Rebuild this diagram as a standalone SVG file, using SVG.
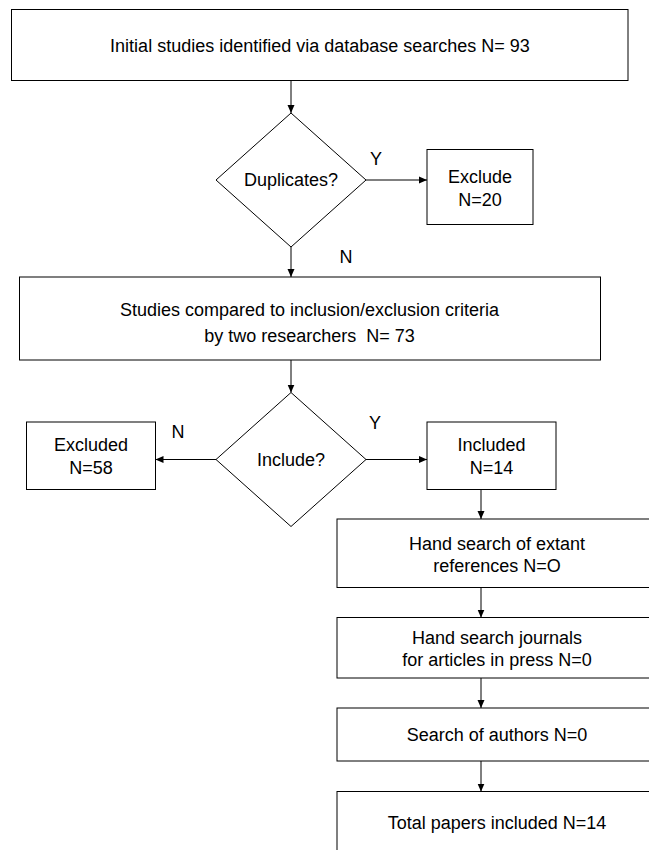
<svg xmlns="http://www.w3.org/2000/svg" width="649" height="850" viewBox="0 0 649 850">
<style>
.box{fill:#fff;stroke:#000;stroke-width:1}
.dia{fill:#fff;stroke:#000;stroke-width:1}
.t{font-family:"Liberation Sans",Arial,sans-serif;font-size:18px;fill:#000;text-anchor:middle}
.c{stroke:#000;stroke-width:1;fill:none;marker-end:url(#ah)}
</style>
<defs>
<marker id="ah" markerUnits="userSpaceOnUse" markerWidth="8" markerHeight="8" refX="8" refY="4" orient="auto">
<path d="M0,0.5 L8,4 L0,7.5 z" fill="#000"/>
</marker>
</defs>
<rect width="649" height="850" fill="#fff"/>
<g id="connectors">
<line class="c" x1="291" y1="80.5" x2="291" y2="113"/>
<line class="c" x1="366" y1="180" x2="427" y2="180"/>
<line class="c" x1="291" y1="247" x2="291" y2="277"/>
<line class="c" x1="291" y1="360" x2="291" y2="392.5"/>
<line class="c" x1="216" y1="459.5" x2="155.5" y2="459.5"/>
<line class="c" x1="366" y1="459.5" x2="427" y2="459.5"/>
<line class="c" x1="481" y1="489.5" x2="481" y2="519"/>
<line class="c" x1="481" y1="587.5" x2="481" y2="617.5"/>
<line class="c" x1="481" y1="678" x2="481" y2="708"/>
<line class="c" x1="481" y1="761" x2="481" y2="791.5"/>
<text class="t" x="376" y="165">Y</text>
<text class="t" x="346" y="263">N</text>
<text class="t" x="178" y="438">N</text>
<text class="t" x="375" y="429">Y</text>
</g>
<g id="initial">
<rect class="box" x="11.5" y="9.5" width="616.5" height="71"/>
<text class="t" x="320" y="52">Initial studies identified via database searches N= 93</text>
</g>
<g id="duplicates">
<polygon class="dia" points="291,113 366,180 291,247 216,180"/>
<text class="t" x="291" y="186">Duplicates?</text>
</g>
<g id="exclude">
<rect class="box" x="427" y="149.5" width="106" height="75"/>
<text class="t" x="480" y="183">Exclude</text>
<text class="t" x="480" y="206">N=20</text>
</g>
<g id="compared">
<rect class="box" x="19.5" y="277" width="581" height="83"/>
<text class="t" x="309.5" y="316">Studies compared to inclusion/exclusion criteria</text>
<text class="t" x="309.5" y="342" xml:space="preserve">by two researchers  N= 73</text>
</g>
<g id="include">
<polygon class="dia" points="291,392.5 366,459.5 291,526.5 216,459.5"/>
<text class="t" x="291" y="466">Include?</text>
</g>
<g id="excluded">
<rect class="box" x="26.5" y="422" width="129" height="67.5"/>
<text class="t" x="91" y="451">Excluded</text>
<text class="t" x="91" y="474">N=58</text>
</g>
<g id="included">
<rect class="box" x="427" y="422" width="129" height="67.5"/>
<text class="t" x="491.5" y="451">Included</text>
<text class="t" x="491.5" y="474">N=14</text>
</g>
<g id="hand-refs">
<rect class="box" x="337" y="519" width="330" height="68.5"/>
<text class="t" x="497" y="550">Hand search of extant</text>
<text class="t" x="497" y="572">references N=O</text>
</g>
<g id="hand-journals">
<rect class="box" x="337" y="617.5" width="330" height="60.5"/>
<text class="t" x="497" y="644">Hand search journals</text>
<text class="t" x="497" y="666">for articles in press N=0</text>
</g>
<g id="authors">
<rect class="box" x="337" y="708" width="330" height="53"/>
<text class="t" x="497" y="741">Search of authors N=0</text>
</g>
<g id="total">
<rect class="box" x="337" y="791.5" width="330" height="80"/>
<text class="t" x="497" y="829">Total papers included N=14</text>
</g>
</svg>
